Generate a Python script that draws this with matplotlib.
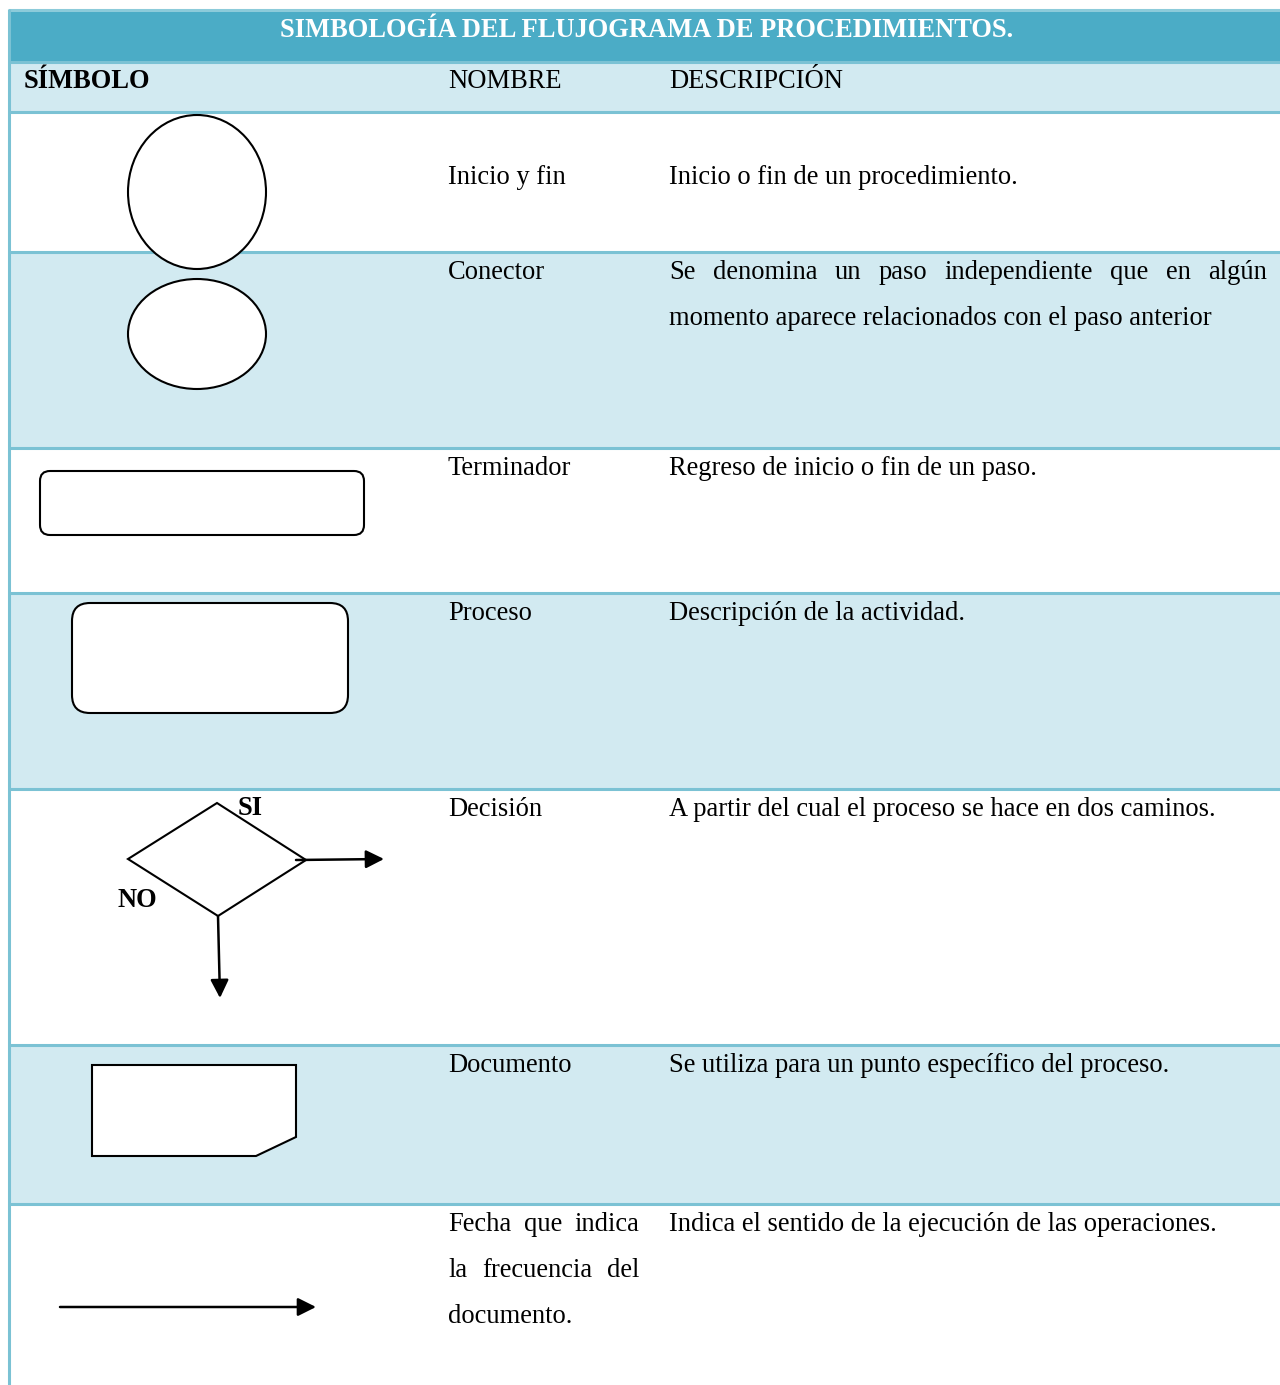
import matplotlib.pyplot as plt
from matplotlib.patches import Rectangle, Ellipse, FancyBboxPatch, Polygon

# table content
titulo = 'SIMBOLOGÍA DEL FLUJOGRAMA DE PROCEDIMIENTOS.'
encabezados = ['SÍMBOLO', 'NOMBRE', 'DESCRIPCIÓN']
nombres = [['Inicio y fin'], ['Conector'], ['Terminador'], ['Proceso'],
           ['Decisión'], ['Documento'],
           ['Fecha que indica', 'la frecuencia del', 'documento.']]
descripciones = [['Inicio o fin de un procedimiento.'],
                 ['Se denomina un paso independiente que en algún',
                  'momento aparece relacionados con el paso anterior'],
                 ['Regreso de inicio o fin de un paso.'],
                 ['Descripción de la actividad.'],
                 ['A partir del cual el proceso se hace en dos caminos.'],
                 ['Se utiliza para un punto específico del proceso.'],
                 ['Indica el sentido de la ejecución de las operaciones.']]
etiquetas_decision = ['SI', 'NO']

# layout (pixels)
W, H = 1280, 1385
row_edges = [112, 252, 448, 593, 789, 1045, 1204, 1385]
col_x = [24, 448, 669]
col_right = [None, 639, 1267]
line_gap = 46

DARK = '#4BACC6'
LIGHT = '#D2EAF1'
LINE = '#7BC2D4'
FONT = 'Liberation Serif'
FS = 19.1

fig = plt.figure(figsize=(W / 100, H / 100), dpi=100)
ax = fig.add_axes([0, 0, 1, 1])
ax.set_xlim(0, W)
ax.set_ylim(H, 0)
ax.axis('off')
renderer = fig.canvas.get_renderer()

# bands
ax.add_patch(Rectangle((10, 10), W - 10, 52, color=DARK, lw=0))
ax.add_patch(Rectangle((10, 62), W - 10, 50, color=LIGHT, lw=0))
for i in range(len(row_edges) - 1):
    if i % 2 == 1:
        ax.add_patch(Rectangle((10, row_edges[i]), W - 10,
                               row_edges[i + 1] - row_edges[i], color=LIGHT, lw=0))
ax.plot([10, W], [9.5, 9.5], color='#8CCBDA', lw=2.2)
for y in [62] + row_edges[:-1]:
    ax.plot([10, W], [y, y], color=LINE, lw=2.2, solid_capstyle='butt')
ax.plot([9, 9], [9, H], color=LINE, lw=2.2, solid_capstyle='butt')


def word_width(w, **kw):
    t = ax.text(0, 0, w, fontsize=FS, family=FONT, **kw)
    wd = t.get_window_extent(renderer).width
    t.remove()
    return wd


def justified(x0, x1, y, line, **kw):
    words = line.split()
    widths = [word_width(w, **kw) for w in words]
    gap = (x1 - x0 - sum(widths)) / (len(words) - 1)
    x = x0
    for w, wd in zip(words, widths):
        ax.text(x, y, w, fontsize=FS, family=FONT, va='baseline', **kw)
        x += wd + gap


# title and header
ax.text(647, 37, titulo, fontsize=FS, family=FONT, color='white',
        fontweight='bold', ha='center', va='baseline')
for j, enc in enumerate(encabezados):
    ax.text(col_x[j], 88, enc, fontsize=FS, family=FONT, va='baseline',
            fontweight='bold' if j == 0 else 'normal')

# names and descriptions
for i in range(len(nombres)):
    y0 = row_edges[i] + 72 if i == 0 else row_edges[i] + 27
    for col, lines in ((1, nombres[i]), (2, descripciones[i])):
        for k, line in enumerate(lines):
            y = y0 + k * line_gap
            if k < len(lines) - 1:
                justified(col_x[col], col_right[col], y, line)
            else:
                ax.text(col_x[col], y, line, fontsize=FS, family=FONT, va='baseline')

# symbols
sym = dict(facecolor='white', edgecolor='black', lw=1.5, zorder=3)
ax.add_patch(Ellipse((197, 192), 138, 154, **sym))
ax.add_patch(Ellipse((197, 334), 138, 110, **sym))
ax.add_patch(FancyBboxPatch((40, 471), 324, 64,
                            boxstyle='round,pad=0,rounding_size=10', **sym))
ax.add_patch(FancyBboxPatch((72, 603), 276, 110,
                            boxstyle='round,pad=0,rounding_size=18', **sym))
ax.add_patch(Polygon([(217, 803), (306, 860), (218, 916), (128, 859)],
                     closed=True, fill=False, edgecolor='black', lw=1.5, zorder=3))
ax.add_patch(Polygon([(92, 1065), (296, 1065), (296, 1137), (256, 1156), (92, 1156)],
                     closed=True, **sym))

arrow = dict(arrowstyle='-|>,head_length=1.1,head_width=0.55', color='black',
             lw=1.8, shrinkA=0, shrinkB=0)
ax.annotate('', xy=(384, 859), xytext=(296, 860), arrowprops=arrow, zorder=4)
ax.annotate('', xy=(220, 998), xytext=(218, 916), arrowprops=arrow, zorder=4)
ax.annotate('', xy=(316, 1307), xytext=(60, 1307), arrowprops=arrow, zorder=4)

ax.text(238, 815, etiquetas_decision[0], fontsize=FS, family=FONT,
        fontweight='bold', va='baseline')
ax.text(118, 907, etiquetas_decision[1], fontsize=FS, family=FONT,
        fontweight='bold', va='baseline')

fig.savefig('out.png', dpi=100)
